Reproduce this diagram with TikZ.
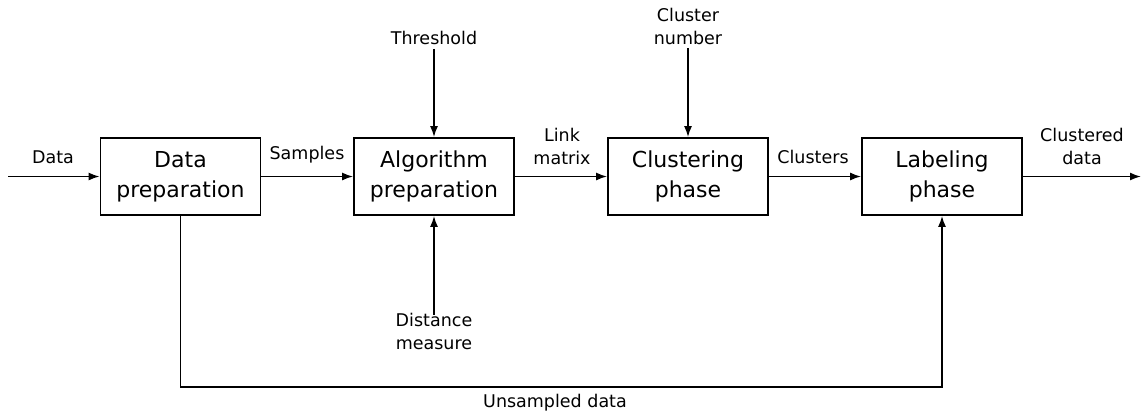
\documentclass[tikz,border=0pt]{standalone}
\usepackage{fontspec}
\setmainfont{DejaVu Sans}
\usetikzlibrary{arrows.meta}
\begin{document}
\begin{tikzpicture}[x=1pt,y=-1pt,
  stagebox/.style={draw,line width=1.7pt,minimum width=160pt,minimum height=77pt,inner sep=0pt,
    align=center,font=\fontsize{22}{30}\selectfont},
  lbl/.style={inner sep=4pt,align=center,font=\fontsize{17.5}{23}\selectfont},
  arr/.style={line width=1.7pt,-{Latex[length=11pt,width=8pt]}}]
\useasboundingbox (0,0) rectangle (1145,416);

% processing stages
\node[stagebox] (b1) at (180.5,176.5) {Data\\preparation};
\node[stagebox] (b2) at (434,176.5) {Algorithm\\preparation};
\node[stagebox] (b3) at (688,176.5) {Clustering\\phase};
\node[stagebox] (b4) at (942,176.5) {Labeling\\phase};

% inputs and outputs
\coordinate (in) at (8,176.5);
\coordinate (out) at (1141,176.5);
\coordinate (loopL) at (180.5,387);

\node[lbl] (ldata) at (53,157) {Data};
\node[lbl] (lsamp) at (307,155) {Samples};
\node[lbl] (llink) at (562,146) {Link\\matrix};
\node[lbl] (lclus) at (813,157) {Clusters};
\node[lbl] (lcdat) at (1082,146) {Clustered\\data};
\node[lbl] (thr) at (434,38) {Threshold};
\node[lbl] (cnum) at (688,26) {Cluster\\number};
\node[lbl] (dist) at (434,331) {Distance\\measure};
\node[lbl] (lunsamp) at (555,403) {Unsampled data};

% main flow
\draw[arr] (in) -- (b1.west);
\draw[arr] (b1) -- (b2);
\draw[arr] (b2) -- (b3);
\draw[arr] (b3) -- (b4);
\draw[arr] (b4.east) -- (out);

% parameters
\draw[arr] (thr.south) -- (b2.north);
\draw[arr] (cnum.south) -- (b3.north);
\draw[arr,shorten <=-6pt] (dist.north) -- (b2.south);

% bypass of unsampled data
\draw[arr] (b1.south) -- (loopL) -| (b4.south);
\end{tikzpicture}
\end{document}
